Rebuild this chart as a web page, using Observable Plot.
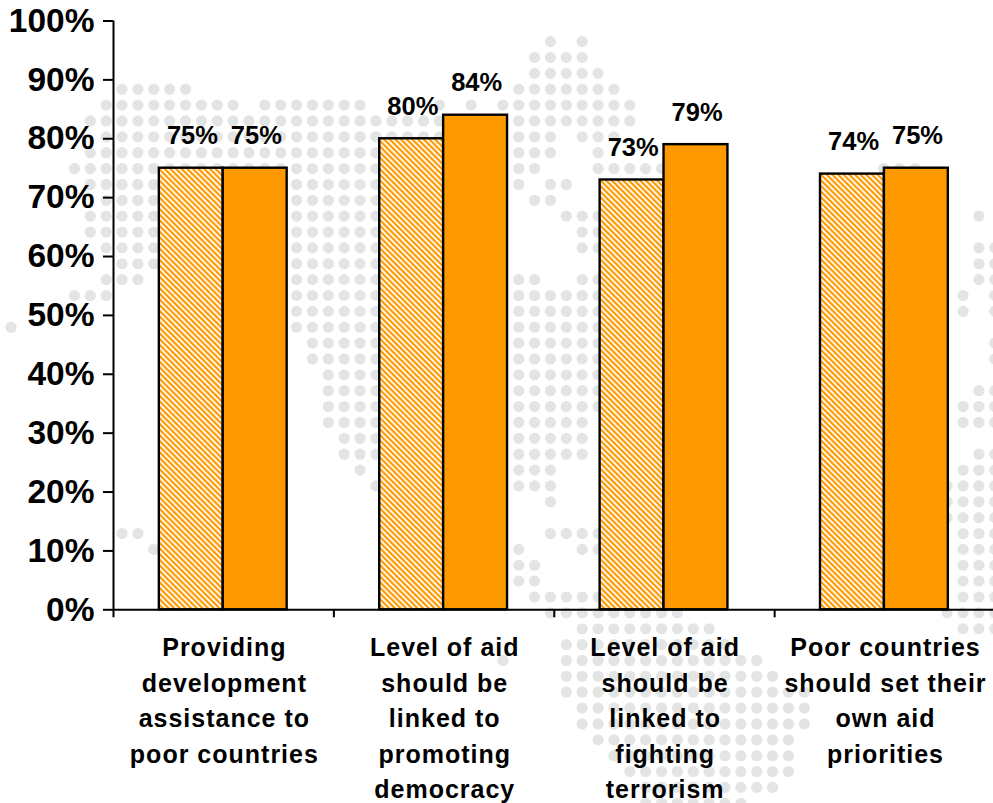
<!DOCTYPE html>
<html>
<head>
<meta charset="utf-8">
<script src="https://cdn.jsdelivr.net/npm/d3@7"></script>
<script src="https://cdn.jsdelivr.net/npm/@observablehq/plot@0.6"></script>
<style>
html,body{margin:0;padding:0;background:#fff}
svg{display:block}
</style>
</head>
<body>
<div id="chart"></div>
<script>
const categories = [
  "Providing\ndevelopment\nassistance to\npoor countries",
  "Level of aid\nshould be\nlinked to\npromoting\ndemocracy",
  "Level of aid\nshould be\nlinked to\nfighting\nterrorism",
  "Poor countries\nshould set their\nown aid\npriorities"
];
const hatchedValues = [75, 80, 73, 74];
const solidValues = [75, 84, 79, 75];
const yTicks = [0, 10, 20, 30, 40, 50, 60, 70, 80, 90, 100];

// Background dotted world map: [row, [firstColumn, lastColumn], ...]
const mapRows = [
  [0,[34,34],[36,36]],
  [1,[33,36]],
  [2,[33,37]],
  [3,[7,11],[32,38]],
  [4,[6,14],[16,22],[27,27],[29,29],[31,39]],
  [5,[5,39]],
  [6,[6,34],[36,38]],
  [7,[5,34],[37,37]],
  [8,[4,33],[37,44],[55,57]],
  [9,[5,32],[34,35]],
  [10,[6,31],[33,34]],
  [11,[5,31],[35,37],[61,61]],
  [12,[5,31],[36,37]],
  [13,[6,31],[36,37],[61,62]],
  [14,[7,23],[61,62]],
  [15,[6,8],[18,23],[32,33],[36,37],[61,62]],
  [16,[4,6],[18,23],[32,37],[60,60],[62,62]],
  [17,[18,23],[32,37],[60,60],[62,62]],
  [18,[0,0],[18,23],[32,37]],
  [19,[19,23],[32,37],[62,62]],
  [20,[19,23],[32,37],[62,62]],
  [21,[20,23],[32,37]],
  [22,[20,23],[32,37],[61,62]],
  [23,[20,23],[32,37],[60,62]],
  [24,[20,23],[32,36],[60,62]],
  [25,[21,23],[32,36]],
  [26,[21,23],[32,36],[61,62]],
  [27,[22,22],[32,34],[60,62]],
  [28,[23,23],[32,34],[59,62]],
  [29,[34,34],[59,62]],
  [30,[59,62]],
  [31,[7,8],[34,37],[60,62]],
  [32,[9,9],[32,32],[36,37],[60,62]],
  [33,[32,33],[60,62]],
  [34,[32,33],[60,62]],
  [35,[33,37],[60,62]],
  [36,[34,42],[59,62]],
  [37,[36,44],[60,62]],
  [38,[35,45]],
  [39,[31,31],[35,47]],
  [40,[35,48]],
  [41,[35,50]],
  [42,[36,50]],
  [43,[36,50]],
  [44,[37,49]],
  [45,[38,49]],
  [46,[39,49]],
  [47,[40,48]],
  [48,[40,46]]
];

const ORANGE = "#ff9900";
const FONT = "'Liberation Sans', Arial, sans-serif";

// Conversion of the dot grid into chart units
const colStart = -0.4653, colStep = 0.07200;
const rowStart = 96.5, rowStep = -2.695;
const mapDots = mapRows.flatMap(([row, ...spans]) =>
  spans.flatMap(([a, b]) => d3.range(a, b + 1).map(col => ({
    x: colStart + col * colStep,
    y: rowStart + row * rowStep
  })))
);

const barOffset = 0.208, barWidth = 0.29;
const hatched = hatchedValues.map((v, i) => ({v, x1: i + barOffset, x2: i + barOffset + barWidth}));
const solid = solidValues.map((v, i) => ({v, x1: i + barOffset + barWidth, x2: i + barOffset + 2 * barWidth}));
const barLabels = [...hatched, ...solid].map(d => ({x: (d.x1 + d.x2) / 2 + 0.005, y: d.v, text: d.v + "%"}));
const catLabels = categories.map((c, i) => ({x: i + 0.503, text: c}));

const svg = Plot.plot({
  width: 993,
  height: 803,
  marginLeft: 113,
  marginRight: 0,
  marginTop: 20.5,
  marginBottom: 193.7,
  style: {fontFamily: FONT, background: "#fff", overflow: "visible"},
  x: {domain: [0, 3.993], axis: null},
  y: {domain: [0, 100], axis: null},
  marks: [
    Plot.dot(mapDots, {x: "x", y: "y", r: 5.6, fill: "#e3e5e5", stroke: "none"}),
    Plot.rectY(hatched, {x1: "x1", x2: "x2", y: "v", fill: "url(#hatch)", stroke: "#000", strokeWidth: 2.4}),
    Plot.rectY(solid, {x1: "x1", x2: "x2", y: "v", fill: ORANGE, stroke: "#000", strokeWidth: 2.4}),
    Plot.ruleX([0], {y1: 0, y2: 100, stroke: "#000", strokeWidth: 2}),
    Plot.ruleY([0], {x1: 0, x2: 3.993, stroke: "#000", strokeWidth: 2}),
    Plot.axisY({
      ticks: yTicks, tickSize: 10, tickPadding: 9, label: null,
      tickFormat: d => d + "%", fontSize: 33.5, fontWeight: "bold",
      stroke: "#000", strokeWidth: 2, fill: "#000"
    }),
    Plot.axisX({
      ticks: [0, 1, 2, 3], tickSize: 8, label: null, tickFormat: () => "",
      stroke: "#000", strokeWidth: 2
    }),
    Plot.text(barLabels, {
      x: "x", y: "y", text: "text", fontSize: 25.5, fontWeight: "bold", fill: "#000",
      textAnchor: "middle", lineAnchor: "bottom", dy: -24
    }),
    Plot.text(catLabels, {
      x: "x", y: () => 0, text: "text", fontSize: 25, fontWeight: "bold", fill: "#000",
      textAnchor: "middle", lineAnchor: "top", lineHeight: 1.424, dy: 21
    })
  ]
});

const defs = d3.select(svg).insert("defs", ":first-child");
const pattern = defs.append("pattern")
  .attr("id", "hatch").attr("patternUnits", "userSpaceOnUse")
  .attr("width", 4).attr("height", 4)
  .attr("patternTransform", "rotate(-45)");
pattern.append("rect").attr("width", 4).attr("height", 4).attr("fill", "#fff");
pattern.append("rect").attr("width", 2.2).attr("height", 4).attr("fill", ORANGE);

d3.select(svg).selectAll("text")
  .filter(function() { return this.querySelector("tspan") && this.textContent.length > 6; })
  .style("letter-spacing", "1px");
document.getElementById("chart").appendChild(svg);
</script>
</body>
</html>
